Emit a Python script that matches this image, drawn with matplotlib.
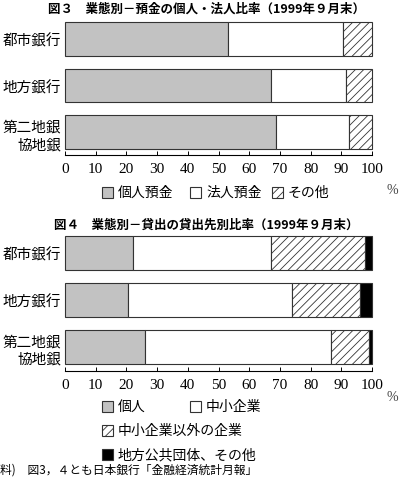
import matplotlib
matplotlib.use("Agg")
import matplotlib.pyplot as plt
from matplotlib.patches import Rectangle

plt.rcParams['font.family'] = ['Noto Sans CJK JP', 'DejaVu Sans']
plt.rcParams['hatch.linewidth'] = 0.6

categories = ['都市銀行', '地方銀行', '第二地銀\n協地銀']
ticks = [0, 10, 20, 30, 40, 50, 60, 70, 80, 90, 100]

# Fig 3: deposits
dep_labels = ['個人預金', '法人預金', 'その他']
dep_personal = [53.0, 67.0, 68.7]
dep_corporate = [37.5, 24.5, 23.8]
dep_other = [9.5, 8.5, 7.5]

# Fig 4: loans
loan_labels = ['個人', '中小企業', '中小企業以外の企業', '地方公共団体、その他']
loan_personal = [22.0, 20.5, 26.2]
loan_sme = [45.0, 53.3, 60.5]
loan_large = [30.8, 22.2, 12.3]
loan_public = [2.2, 4.0, 1.0]

title3 = '図３　業態別－預金の個人・法人比率（1999年９月末）'
title4 = '図４　業態別－貸出の貸出先別比率（1999年９月末）'
source = '料)　図3，４とも日本銀行「金融経済統計月報」'

GRAY = '#c2c2c2'
W, H = 407, 489
fig = plt.figure(figsize=(W / 100, H / 100), dpi=100)
fig.patch.set_facecolor('white')

def px_axes(x0, y_top, x1, y_bot):
    return fig.add_axes([x0 / W, 1 - y_bot / H, (x1 - x0) / W, (y_bot - y_top) / H])

styles3 = [dict(color=GRAY, hatch=None), dict(color='white', hatch=None),
           dict(color='white', hatch='////')]
styles4 = [dict(color=GRAY, hatch=None), dict(color='white', hatch=None),
           dict(color='white', hatch='////'), dict(color='black', hatch=None)]

def draw(ax, series, styles, ylim):
    left = [0.0] * len(categories)
    for vals, st in zip(series, styles):
        bars = ax.barh(range(len(categories)), vals, left=left, height=0.72,
                       color=st['color'], hatch=st['hatch'], edgecolor='#333333',
                       linewidth=0.8)
        for b in bars:
            b.set_clip_on(False)
        left = [a + b for a, b in zip(left, vals)]
    ax.set_xlim(0, 100)
    ax.set_ylim(*ylim)
    for s in ['top', 'right', 'left']:
        ax.spines[s].set_visible(False)
    ax.spines['bottom'].set_linewidth(0.8)
    ax.spines['bottom'].set_position(('outward', 2))
    ax.set_xticks(ticks)
    ax.set_xticklabels([str(t) for t in ticks], fontfamily='Liberation Serif', fontsize=11)
    ax.tick_params(axis='x', direction='in', length=3, width=0.7, pad=5)
    ax.set_yticks(range(len(categories)))
    ax.set_yticklabels(categories, fontsize=10.5, linespacing=1.3)
    ax.tick_params(axis='y', length=0, pad=3)

ax3 = px_axes(65, 20, 372, 153)
draw(ax3, [dep_personal, dep_corporate, dep_other], styles3, (2.42, -0.42))
ax4 = px_axes(65, 235, 372, 369)
draw(ax4, [loan_personal, loan_sme, loan_large, loan_public], styles4, (2.45, -0.4))

fig.text(206 / W, 1 - 9 / H, title3, ha='center', va='center', fontsize=9, fontweight='bold')
fig.text(206 / W, 1 - 225 / H, title4, ha='center', va='center', fontsize=9, fontweight='bold')

fig.text(392 / W, 1 - 190 / H, '%', ha='center', va='center', fontsize=10, fontfamily='Liberation Serif', color='#444444')
fig.text(392 / W, 1 - 398 / H, '%', ha='center', va='center', fontsize=10, fontfamily='Liberation Serif', color='#444444')

def legend_item(x, y, style, label):
    bw, bh = 11, 11
    r = Rectangle((x / W, 1 - (y + bh / 2) / H), bw / W, bh / H, transform=fig.transFigure,
                  facecolor=style['color'], hatch=style['hatch'], edgecolor='#333333', linewidth=0.8)
    fig.patches.append(r)
    fig.text((x + bw + 5) / W, 1 - y / H, label, ha='left', va='center', fontsize=10)

leg3_pos = [(102, 193), (190, 193), (272, 193)]
for (x, y), st, lab in zip(leg3_pos, styles3, dep_labels):
    legend_item(x, y, st, lab)

leg4_pos = [(102, 407), (190, 407), (102, 431), (102, 455)]
for (x, y), st, lab in zip(leg4_pos, styles4, loan_labels):
    legend_item(x, y, st, lab)

fig.text(0, 1 - 470 / H, source, ha='left', va='center', fontsize=8.5)

fig.savefig('out.png', dpi=100)
